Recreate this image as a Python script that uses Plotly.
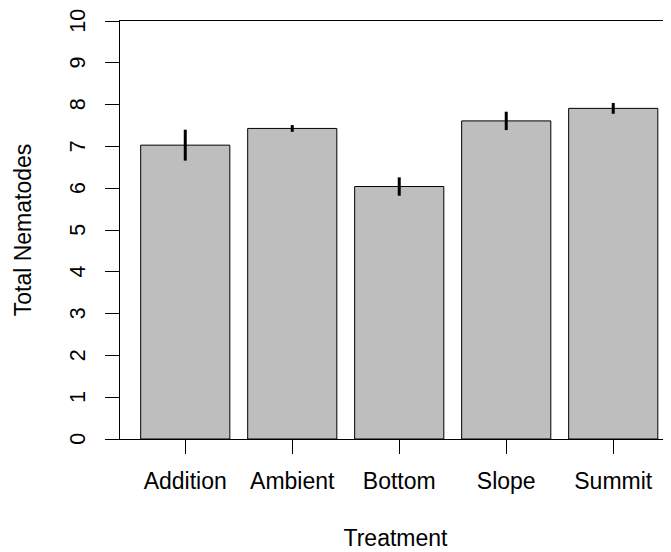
import plotly.graph_objects as go

categories = ["Addition", "Ambient", "Bottom", "Slope", "Summit"]
means = [7.03, 7.43, 6.04, 7.61, 7.91]
errors = [0.37, 0.08, 0.22, 0.22, 0.13]
y_ticks = list(range(0, 11))

FONT = "Liberation Sans, Arial, Helvetica, sans-serif"

# The page body has an 8px default margin, so the figure is sized and
# offset to land the plot region where the reference has it.
fig = go.Figure()
fig.add_trace(go.Bar(
    x=categories,
    y=means,
    marker=dict(color="#BEBEBE", line=dict(color="black", width=1)),
    error_y=dict(type="data", array=errors, visible=True, color="black",
                 thickness=3, width=0),
    showlegend=False,
))

fig.update_layout(
    width=663, height=544,
    margin=dict(l=112, r=0, t=13, b=113),
    paper_bgcolor="white", plot_bgcolor="white",
    bargap=1 - 1 / 1.2,
    font=dict(family=FONT, size=23, color="black"),
    xaxis=dict(
        type="category",
        range=[-0.61, 4.54],
        showline=True, linecolor="black", linewidth=1, mirror=True,
        ticks="outside", ticklen=14, tickwidth=1, tickcolor="black",
        tickfont=dict(size=23),
        ticklabelstandoff=7,
        showgrid=False, zeroline=False,
        title=dict(text="Treatment", standoff=37, font=dict(size=23)),
        automargin=False,
    ),
    yaxis=dict(
        range=[0, 10],
        tickvals=y_ticks,
        showline=True, linecolor="black", linewidth=1, mirror=False,
        ticks="outside", ticklen=14, tickwidth=1, tickcolor="black",
        tickangle=-90,
        tickfont=dict(size=21.5),
        ticklabelstandoff=11,
        ticklabelshift=3,
        ticklabeloverflow="allow",
        showgrid=False, zeroline=False,
        title=dict(text="Total Nematodes", standoff=28, font=dict(size=23)),
        automargin=False,
    ),
)

fig.write_html("out.html")
